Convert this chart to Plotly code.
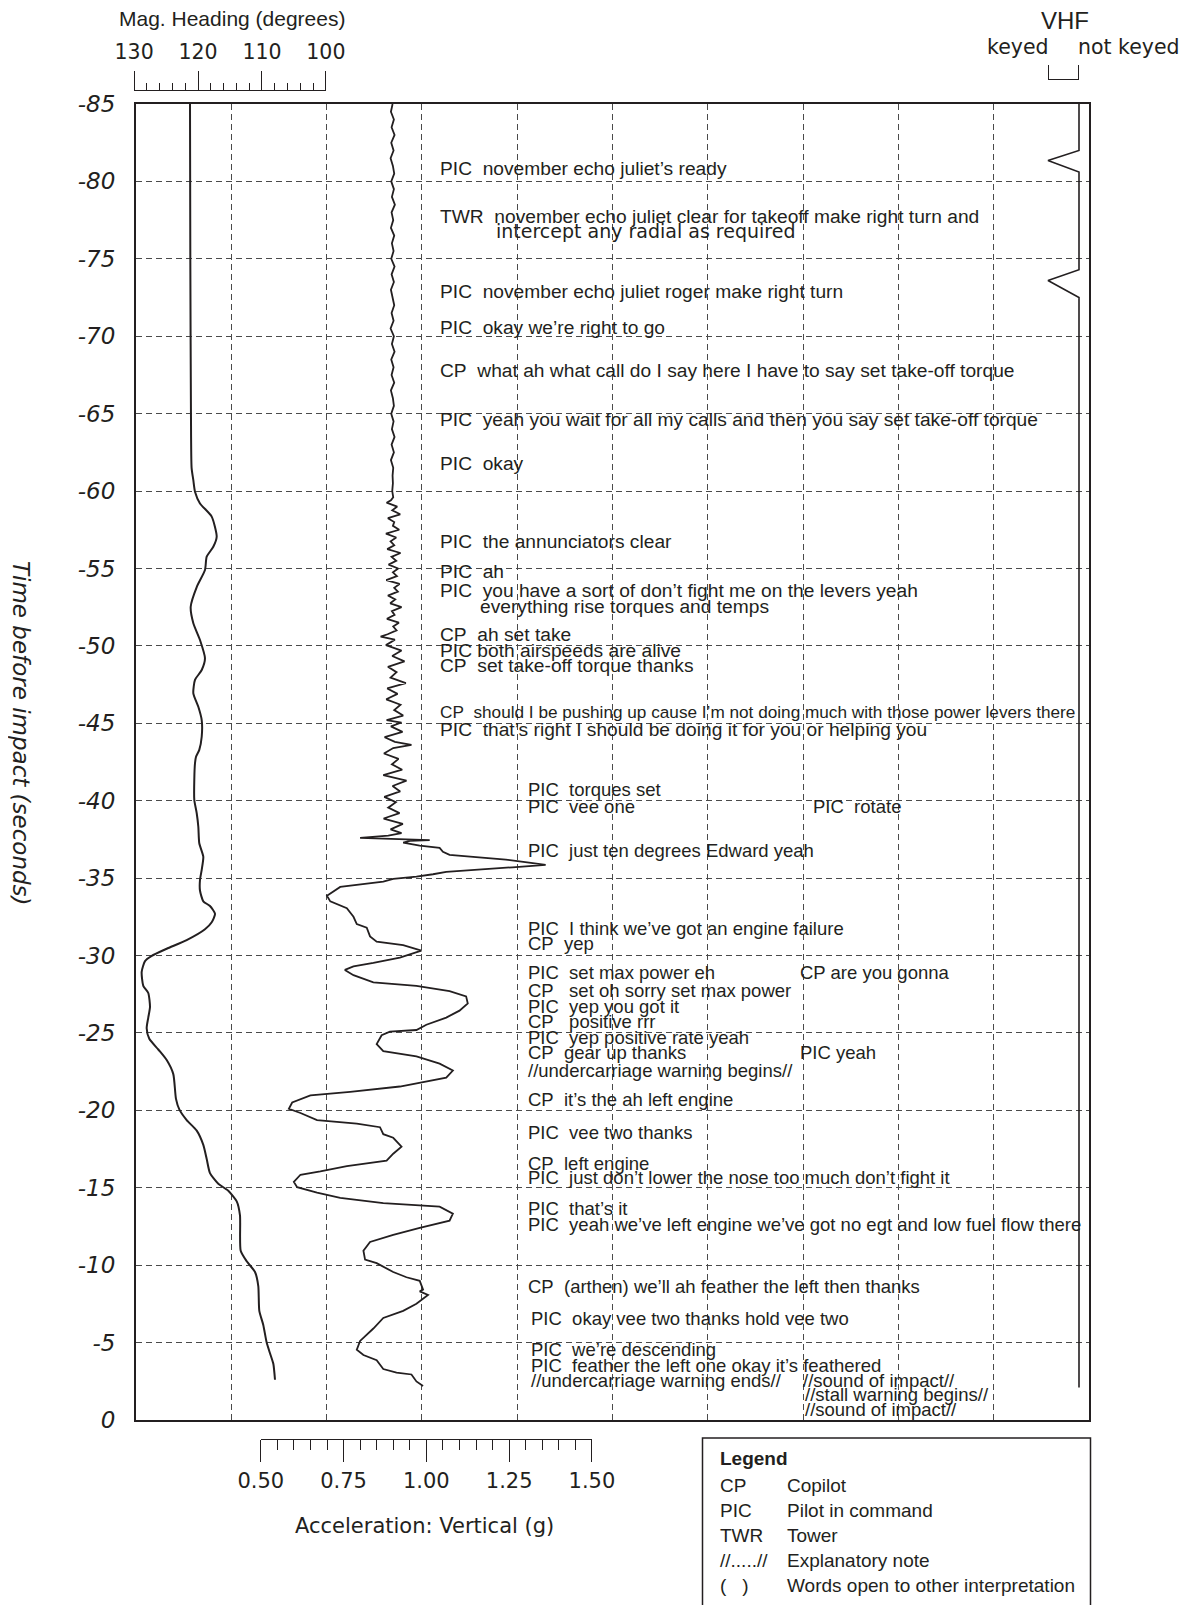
import plotly.graph_objects as go

# ---------------- data ----------------
head_t = [-85, -75, -65, -61.5, -60.7, -59.96, -59.2, -58.35, -57.05, -56.4,
          -55.76, -54.9, -53.8, -52.53, -51.46, -50.38, -49.2, -48.44, -47.8, -46.94,
          -46.07, -45.21, -44.13, -43.28, -42.84, -42.42, -41.34, -40.05, -39.19, -38.32,
          -37.25, -36.38, -35.53, -34.88, -34.2, -33.5, -33.2, -32.7, -32.15, -31.7,
          -31.0, -30.44, -29.98, -29.64, -28.95, -28.04, -27.58, -26.67, -25.99, -25.3,
          -24.62, -23.93, -23.25, -22.34, -20.74, -20.06, -19.37, -18.69, -17.77, -16.86,
          -15.95, -15.26, -14.81, -14.12, -13.21, -10.93, -10.25, -9.56, -8.65, -7.05,
          -6.14, -5.0, -4.31, -3.63, -2.6]
head_deg = [121.25, 121.2, 121.1, 121.0, 120.73, 120.47, 119.69, 117.86, 117.08, 117.61,
            118.64, 118.91, 120.2, 121.14, 120.73, 119.69, 118.91, 119.42, 120.47, 120.73,
            119.95, 119.42, 119.42, 119.8, 120.31, 120.47, 120.58, 120.58, 120.2, 119.95,
            119.8, 119.17, 119.42, 119.69, 119.69, 119.17, 118.13, 117.34, 117.86, 118.91,
            121.77, 124.89, 127.23, 128.28, 128.8, 128.55, 127.77, 127.5, 127.77, 128.02,
            127.61, 126.2, 124.89, 123.86, 123.44, 122.92, 121.77, 120.2, 119.17, 118.64,
            118.13, 116.83, 115.27, 113.95, 113.44, 113.33, 112.39, 111.09, 110.58, 110.42,
            109.8, 109.27, 108.75, 108.23, 107.97]

acc_t = [-85.0, -84.5, -84.0, -83.5, -83.0, -82.5, -82.0, -81.5, -81.0, -80.5,
         -80.0, -79.5, -79.0, -78.5, -78.0, -77.5, -77.0, -76.5, -76.0, -75.5,
         -75.0, -74.5, -74.0, -73.5, -73.0, -72.5, -72.0, -71.5, -71.0, -70.5,
         -70.0, -69.5, -69.0, -68.5, -68.0, -67.5, -67.0, -66.5, -66.0, -65.5,
         -65.0, -64.5, -64.0, -63.5, -63.0, -62.5, -62.0, -61.5, -61.0,
         -60.5, -60.0, -59.6, -59.4,
         -59.25, -59.0, -58.75, -58.5, -58.25, -58.0, -57.75, -57.5, -57.25, -57.0,
         -56.75, -56.5, -56.25, -56.0, -55.75, -55.5, -55.25, -55.0, -54.75, -54.5,
         -54.25, -54.0, -53.75, -53.5, -53.25, -53.0, -52.75, -52.5, -52.25, -52.0,
         -51.75, -51.5, -51.25, -51.0, -50.75,
         -50.6,
         -50.4, -50.05, -49.7, -49.35, -49.0, -48.65, -48.3, -47.95, -47.6, -47.25,
         -46.9, -46.55, -46.2, -45.85, -45.5, -45.2, -45.05, -44.8, -44.45, -44.1,
         -43.8, -43.6, -43.4, -43.05, -42.7, -42.35, -42.0, -41.65, -41.3, -40.95,
         -40.6, -40.25, -39.9, -39.55, -39.2, -38.85, -38.5, -38.15, -37.9,
         -37.75, -37.6, -37.55, -37.45, -37.4, -37.3, -37.1, -36.95, -36.7, -36.5,
         -36.35, -36.2, -36.0, -35.85, -35.7, -35.55, -35.4, -35.25, -35.1, -34.95,
         -34.77, -34.43,
         -33.86, -33.5, -33.06, -32.5, -32.03, -31.8, -31.24, -30.9, -30.67, -30.32,
         -29.87, -29.52, -29.3, -29.07, -28.73, -28.27, -28.04, -27.7, -27.36, -26.9,
         -26.44, -25.99, -25.53, -25.19, -25.08, -24.85, -24.28, -23.82, -23.48, -23.02,
         -22.57, -22.11, -21.88, -21.54, -21.2, -20.97, -20.51, -20.1, -19.83, -19.37,
         -19.14, -18.91, -18.46, -18.23, -17.66, -17.2, -16.75, -16.4, -16.06, -15.84,
         -15.38, -15.04, -14.69, -14.35, -14.01, -13.9, -13.78, -13.33, -12.87, -12.41,
         -11.96, -11.5, -10.93, -10.36, -10.13, -9.56, -9.22, -8.99, -8.42, -8.31,
         -8.08, -7.51, -7.05, -6.59, -5.91, -5.11, -4.54, -4.2, -3.86, -3.29,
         -3.06, -2.94, -2.49, -2.2]
acc_g = [0.898, 0.893, 0.902, 0.895, 0.904, 0.894, 0.901, 0.892, 0.899, 0.903,
         0.894, 0.902, 0.896, 0.905, 0.895, 0.900, 0.893, 0.903, 0.896, 0.901,
         0.894, 0.904, 0.895, 0.902, 0.893, 0.899, 0.903, 0.895, 0.901, 0.892,
         0.902, 0.896, 0.904, 0.894, 0.901, 0.895, 0.903, 0.893, 0.899, 0.902,
         0.894, 0.901, 0.896, 0.904, 0.895, 0.902, 0.893, 0.900, 0.898,
         0.899, 0.897, 0.900, 0.893,
         0.880, 0.912, 0.897, 0.921, 0.884, 0.903, 0.899, 0.918, 0.878, 0.909,
         0.892, 0.903, 0.882, 0.922, 0.895, 0.909, 0.886, 0.915, 0.899, 0.911,
         0.879, 0.919, 0.903, 0.914, 0.884, 0.906, 0.891, 0.925, 0.896, 0.904,
         0.881, 0.917, 0.900, 0.910, 0.883,
         0.862,
         0.905, 0.878, 0.925, 0.897, 0.934, 0.884, 0.910, 0.892, 0.938, 0.882,
         0.913, 0.879, 0.922, 0.903, 0.930, 0.880, 0.925, 0.893, 0.928, 0.874,
         0.905, 0.955, 0.900, 0.872, 0.916, 0.896, 0.927, 0.870, 0.940, 0.898,
         0.921, 0.873, 0.908, 0.885, 0.919, 0.871, 0.929, 0.892, 0.925,
         0.885, 0.800, 0.860, 1.010, 0.950, 0.930, 0.980, 1.040, 1.050, 1.070,
         1.150, 1.240, 1.310, 1.360, 1.260, 1.150, 1.060, 1.020, 0.970, 0.900,
         0.870, 0.740,
         0.700, 0.710, 0.760, 0.780, 0.790, 0.820, 0.830, 0.850, 0.930, 0.985,
         0.920, 0.840, 0.780, 0.754, 0.780, 0.840, 0.970, 1.070, 1.120, 1.125,
         1.100, 1.060, 1.000, 0.970, 0.890, 0.865, 0.850, 0.870, 0.970, 1.040,
         1.080, 1.060, 1.000, 0.920, 0.770, 0.650, 0.595, 0.585, 0.620, 0.670,
         0.790, 0.860, 0.870, 0.900, 0.925, 0.900, 0.880, 0.760, 0.680, 0.620,
         0.600, 0.610, 0.670, 0.740, 0.870, 0.970, 1.040, 1.080, 1.070, 0.980,
         0.900, 0.830, 0.810, 0.815, 0.850, 0.900, 0.940, 0.980, 0.990, 0.980,
         1.005, 0.970, 0.930, 0.870, 0.840, 0.800, 0.790, 0.810, 0.850, 0.870,
         0.910, 0.955, 0.970, 0.990]

vhf_t = [-85, -82.0, -81.35, -80.6, -74.3, -73.6, -72.5, -2.1]
vhf_state = [1, 1, 0, 1, 1, 0, 1, 1]          # 0 = keyed, 1 = not keyed

y_ticks = [-85, -80, -75, -70, -65, -60, -55, -50, -45, -40, -35, -30, -25, -20, -15, -10, -5, 0]
y_tick_labels = ["-85", "-80", "-75", "-70", "-65", "-60", "-55", "-50", "-45", "-40",
                 "-35", "-30", "-25", "-20", "-15", "-10", "-5", "0"]
heading_ticks = [130, 120, 110, 100]
heading_tick_labels = ["130", "120", "110", "100"]
accel_ticks = [0.5, 0.75, 1.0, 1.25, 1.5]
accel_tick_labels = ["0.50", "0.75", "1.00", "1.25", "1.50"]

# transcript: column position (grid units 0-10), time (s), text
cvr_x = [3.17, 3.17, 3.757, 3.17, 3.17, 3.17, 3.17, 3.17, 3.17, 3.17,
         3.17, 3.59, 3.17, 3.17, 3.17, 3.17, 3.17,
         4.09, 4.09, 7.08, 4.09, 4.09, 4.09, 4.09, 6.95, 4.09, 4.09,
         4.09, 4.09, 4.09, 6.95, 4.09, 4.09, 4.09, 4.09, 4.09, 4.09,
         4.09, 4.09, 4.12, 4.12, 4.12, 4.12, 6.98, 7.0, 7.0]
cvr_t = [-80.84, -77.73, -76.8, -72.9, -70.59, -67.81, -64.64, -61.8, -56.71, -54.79,
         -53.6, -52.54, -50.76, -49.7, -48.71, -45.74, -44.61,
         -40.71, -39.65, -39.65, -36.81, -31.72, -30.8, -28.88, -28.88, -27.76, -26.7,
         -25.71, -24.72, -23.72, -23.72, -22.6, -20.68, -18.57, -16.58, -15.66, -13.68,
         -12.62, -8.65, -6.54, -4.56, -3.5, -2.57, -2.57, -1.65, -0.66]
cvr_text = [
    "PIC  november echo juliet’s ready",
    "TWR  november echo juliet clear for takeoff make right turn and",
    "intercept any radial as required",
    "PIC  november echo juliet roger make right turn",
    "PIC  okay we’re right to go",
    "CP  what ah what call do I say here I have to say set take-off torque",
    "PIC  yeah you wait for all my calls and then you say set take-off torque",
    "PIC  okay",
    "PIC  the annunciators clear",
    "PIC  ah",
    "PIC  you have a sort of don’t fight me on the levers yeah",
    "everything rise torques and temps",
    "CP  ah set take",
    "PIC both airspeeds are alive",
    "CP  set take-off torque thanks",
    "CP  should I be pushing up cause I’m not doing much with those power levers there",
    "PIC  that’s right I should be doing it for you or helping you",
    "PIC  torques set",
    "PIC  vee one",
    "PIC  rotate",
    "PIC  just ten degrees Edward yeah",
    "PIC  I think we’ve got an engine failure",
    "CP  yep",
    "PIC  set max power eh",
    "CP are you gonna",
    "CP   set oh sorry set max power",
    "PIC  yep you got it",
    "CP   positive rrr",
    "PIC  yep positive rate yeah",
    "CP  gear up thanks",
    "PIC yeah",
    "//undercarriage warning begins//",
    "CP  it’s the ah left engine",
    "PIC  vee two thanks",
    "CP  left engine",
    "PIC  just don’t lower the nose too much don’t fight it",
    "PIC  that’s it",
    "PIC  yeah we’ve left engine we’ve got no egt and low fuel flow there",
    "CP  (arthen) we’ll ah feather the left then thanks",
    "PIC  okay vee two thanks hold vee two",
    "PIC  we’re descending",
    "PIC  feather the left one okay it’s feathered",
    "//undercarriage warning ends//",
    "//sound of impact//",
    "//stall warning begins//",
    "//sound of impact//",
]

legend_abbr = ["CP", "PIC", "TWR", "//.....//", "(   )"]
legend_desc = ["Copilot", "Pilot in command", "Tower", "Explanatory note",
               "Words open to other interpretation"]

assert len(head_t) == len(head_deg)
assert len(acc_t) == len(acc_g)
assert len(cvr_x) == len(cvr_t) == len(cvr_text)

# ---------------- layout helpers ----------------
OFF = 8                      # page body margin of the html page
W, H = 1190 - OFF, 1605 - OFF
L = 134 - OFF
PW = 955
R = W - L - PW
INK = "#231f20"
GRID = "#4a4a4a"


def px_x(x):
    """page pixel x -> paper fraction"""
    return (x - OFF - L) / PW


def px_y(y):
    """page pixel y -> paper fraction"""
    return (H - (y - OFF)) / H


main_dom = [px_x(136), 1.0]
y_dom = [px_y(1420), px_y(104)]

fig = go.Figure()
fig.add_trace(go.Scatter(x=[], y=[], xaxis="x", yaxis="y", showlegend=False))
fig.add_trace(go.Scatter(x=head_deg, y=head_t, xaxis="x2", yaxis="y", mode="lines",
                         line=dict(color=INK, width=2, shape="spline", smoothing=0.6),
                         showlegend=False, hoverinfo="skip"))
fig.add_trace(go.Scatter(x=acc_g, y=acc_t, xaxis="x3", yaxis="y", mode="lines",
                         line=dict(color=INK, width=1.8), showlegend=False, hoverinfo="skip"))
fig.add_trace(go.Scatter(x=vhf_state, y=vhf_t, xaxis="x4", yaxis="y", mode="lines",
                         line=dict(color=INK, width=1.6), showlegend=False, hoverinfo="skip"))
for ax in ["x5", "x6", "x7"]:
    fig.add_trace(go.Scatter(x=[], y=[], xaxis=ax, yaxis="y2", showlegend=False))

fig.update_layout(
    width=W, height=H,
    margin=dict(l=L, r=R, t=0, b=0, pad=0, autoexpand=False),
    paper_bgcolor="white", plot_bgcolor="rgba(0,0,0,0)",
    showlegend=False,
    xaxis=dict(domain=main_dom, range=[0, 10], tickvals=list(range(1, 10)),
               showticklabels=False, ticks="", showgrid=True, gridcolor=GRID,
               griddash="6px,4px", gridwidth=1, zeroline=False, showline=True,
               linecolor=INK, linewidth=2, mirror=True, anchor="y"),
    yaxis=dict(domain=y_dom, range=[0, -85], tickvals=y_ticks, ticktext=y_tick_labels,
               tickfont=dict(family="DejaVu Sans", size=23, style="italic", color=INK),
               ticks="", ticklabelstandoff=14, showgrid=True, gridcolor=GRID,
               griddash="6px,4px", gridwidth=1, zeroline=False, showline=True,
               linecolor=INK, linewidth=2, mirror=True, anchor="x"),
    xaxis2=dict(overlaying="x", range=[129.6875, -19.2188], visible=False, anchor="y"),
    xaxis3=dict(overlaying="x", range=[0.1236, 3.0], visible=False, anchor="y"),
    xaxis4=dict(overlaying="x", range=[-29.419, 1.3226], visible=False, anchor="y"),
    # heading scale (top left)
    xaxis5=dict(domain=[0, px_x(326)], anchor="free", position=px_y(90), side="top",
                range=[130.02, 99.98], tickvals=heading_ticks, ticktext=heading_tick_labels,
                ticks="outside", ticklen=19, tickwidth=1.2, tickcolor=INK,
                showline=True, linecolor=INK, linewidth=1.2, showgrid=False, zeroline=False,
                minor=dict(dtick=2, tick0=100, ticklen=7, ticks="outside", tickcolor=INK,
                           tickwidth=1.1, showgrid=False),
                tickfont=dict(family="DejaVu Sans", size=20.5, color=INK), ticklabelstandoff=4),
    # acceleration scale (bottom)
    xaxis6=dict(domain=[px_x(260.7), px_x(592)], anchor="free", position=px_y(1439.3),
                side="bottom", range=[0.4998, 1.5002], tickvals=accel_ticks,
                ticktext=accel_tick_labels, ticks="outside", ticklen=22, tickwidth=1.2,
                tickcolor=INK, showline=True, linecolor=INK, linewidth=1.2, showgrid=False,
                zeroline=False,
                minor=dict(dtick=0.05, tick0=0.5, ticklen=10, ticks="outside", tickcolor=INK,
                           tickwidth=1.1, showgrid=False),
                tickfont=dict(family="DejaVu Sans", size=21, color=INK)),
    # VHF keyed / not keyed bracket
    xaxis7=dict(domain=[px_x(1048), px_x(1079)], anchor="free", position=px_y(79),
                side="top", range=[-0.01, 1.01], tickvals=[0, 1], ticks="outside",
                ticklen=14, tickwidth=1.2, tickcolor=INK, showticklabels=False,
                showline=True, linecolor=INK, linewidth=1.2, showgrid=False, zeroline=False),
    yaxis2=dict(domain=[0, 1], range=[0, 1], visible=False, anchor="free", position=0,
                showgrid=False),
)

ann = []
ann.append(dict(text="Mag. Heading (degrees)", x=px_x(232), y=px_y(19), xref="paper", yref="paper",
                xanchor="center", yanchor="middle", showarrow=False,
                font=dict(family="Liberation Sans", size=21, color=INK)))
ann.append(dict(text="VHF", x=px_x(1065), y=px_y(20), xref="paper", yref="paper",
                xanchor="center", yanchor="middle", showarrow=False,
                font=dict(family="Liberation Sans", size=24, color=INK)))
ann.append(dict(text="keyed", x=px_x(1051), y=px_y(47.5), xref="paper", yref="paper",
                xanchor="right", yanchor="middle", showarrow=False,
                font=dict(family="DejaVu Sans", size=20.5, color=INK)))
ann.append(dict(text="not keyed", x=px_x(1076), y=px_y(47.5), xref="paper", yref="paper",
                xanchor="left", yanchor="middle", showarrow=False,
                font=dict(family="DejaVu Sans", size=20.5, color=INK)))
ann.append(dict(text="Time before impact (seconds)", x=px_x(21), y=px_y(733), xref="paper",
                yref="paper", xanchor="center", yanchor="middle", textangle=90, showarrow=False,
                font=dict(family="DejaVu Sans", size=23, style="italic", color=INK)))
ann.append(dict(text="Acceleration: Vertical (g)", x=px_x(424), y=px_y(1526), xref="paper",
                yref="paper", xanchor="center", yanchor="middle", showarrow=False,
                font=dict(family="DejaVu Sans", size=21, color=INK)))

for xv, tv, txt in zip(cvr_x, cvr_t, cvr_text):
    fam = "Liberation Sans"
    size = 19.2 if tv < -44 else 18.5
    if txt.startswith("CP  should"):
        size = 17.2
    if txt.startswith("intercept"):
        fam = "DejaVu Sans"
        size = 19
    ann.append(dict(text=txt.replace("  ", "\u00a0\u00a0"), x=xv, y=tv, xref="x", yref="y",
                    xanchor="left", yanchor="middle", showarrow=False,
                    font=dict(family=fam, size=size, color=INK)))

ann.append(dict(text="<b>Legend</b>", x=px_x(718), y=px_y(1458), xref="paper", yref="paper",
                xanchor="left", yanchor="middle", showarrow=False,
                font=dict(family="Liberation Sans", size=19, color=INK)))
row_y = [1485, 1510, 1535, 1560, 1585]
for ry, ab, de in zip(row_y, legend_abbr, legend_desc):
    ann.append(dict(text=ab.replace("  ", "\u00a0\u00a0"), x=px_x(718), y=px_y(ry), xref="paper",
                    yref="paper", xanchor="left", yanchor="middle", showarrow=False,
                    font=dict(family="Liberation Sans", size=19, color=INK)))
    ann.append(dict(text=de, x=px_x(785), y=px_y(ry), xref="paper", yref="paper",
                    xanchor="left", yanchor="middle", showarrow=False,
                    font=dict(family="Liberation Sans", size=19, color=INK)))

fig.update_layout(annotations=ann)
fig.add_shape(type="rect", xref="paper", yref="paper", x0=px_x(702.5), x1=px_x(1090.5),
              y0=-0.02, y1=px_y(1438), line=dict(color=INK, width=1.5), fillcolor="rgba(0,0,0,0)")

fig.write_html("out.html")
